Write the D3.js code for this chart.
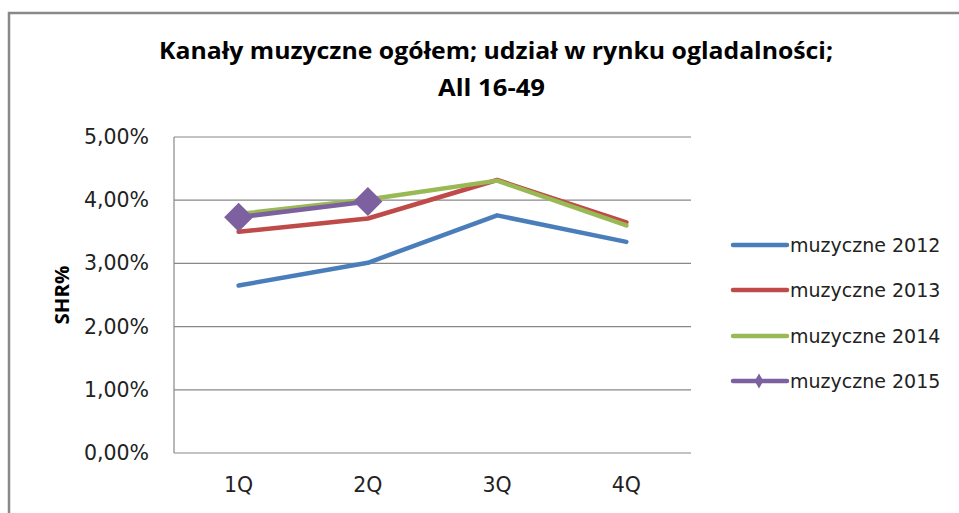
<!DOCTYPE html>
<html>
<head>
<meta charset="utf-8">
<script src="https://cdn.jsdelivr.net/npm/d3@7/dist/d3.min.js"></script>
<style>
  html, body { margin: 0; padding: 0; background: #fff; }
  svg { display: block; }
</style>
</head>
<body>
<svg id="chart" width="959" height="513"></svg>
<script>
const categories = ["1Q", "2Q", "3Q", "4Q"];
const seriesNames = ["muzyczne 2012", "muzyczne 2013", "muzyczne 2014", "muzyczne 2015"];
const values2012 = [2.65, 3.01, 3.76, 3.34];
const values2013 = [3.50, 3.71, 4.32, 3.65];
const values2014 = [3.78, 4.01, 4.31, 3.60];
const values2015 = [3.73, 3.98];
const yTicks = [0, 1, 2, 3, 4, 5];
const yTickLabels = ["0,00%", "1,00%", "2,00%", "3,00%", "4,00%", "5,00%"];
const titleLines = ["Kanały muzyczne ogółem; udział w rynku ogladalności;", "All 16-49"];
const yAxisTitle = "SHR%";

const colors = ["#4a7ebb", "#be4b48", "#98b954", "#7d60a0"];
const seriesValues = [values2012, values2013, values2014, values2015];

const svg = d3.select("#chart");
const plot = { left: 174, right: 691, top: 137, bottom: 453 };

// outer frame
svg.append("path")
  .attr("d", "M9,513 L9,13 L959,13")
  .attr("fill", "none").attr("stroke", "#898989").attr("stroke-width", 2.5);

// title
const titleFont = "'Open Sans','Noto Sans',sans-serif";
svg.append("text")
  .attr("x", 496).attr("y", 58.5)
  .attr("text-anchor", "middle")
  .attr("font-family", titleFont).attr("font-weight", "bold").attr("font-size", 23)
  .attr("textLength", 674).attr("lengthAdjust", "spacingAndGlyphs")
  .attr("fill", "#000")
  .text(titleLines[0]);
svg.append("text")
  .attr("x", 491.5).attr("y", 96)
  .attr("text-anchor", "middle")
  .attr("font-family", titleFont).attr("font-weight", "bold").attr("font-size", 24)
  .attr("textLength", 107).attr("lengthAdjust", "spacingAndGlyphs")
  .attr("fill", "#000")
  .text(titleLines[1]);

const x = d3.scaleBand().domain(categories).range([plot.left, plot.right]);
const y = d3.scaleLinear().domain([0, 5]).range([plot.bottom, plot.top]);

const labelFont = "'DejaVu Sans',sans-serif";

// gridlines
svg.append("g").selectAll("line").data(yTicks).join("line")
  .attr("x1", plot.left).attr("x2", plot.right)
  .attr("y1", d => y(d)).attr("y2", d => y(d))
  .attr("stroke", "#888").attr("stroke-width", 1.2);

// y axis line
svg.append("line")
  .attr("x1", plot.left).attr("x2", plot.left)
  .attr("y1", plot.top).attr("y2", plot.bottom)
  .attr("stroke", "#888").attr("stroke-width", 1.2);

// y axis via d3
const yAxis = d3.axisLeft(y).tickValues(yTicks).tickSize(0).tickPadding(25)
  .tickFormat((d, i) => yTickLabels[i]);
const yg = svg.append("g").attr("transform", `translate(${plot.left},0)`).call(yAxis);
yg.select(".domain").remove();
yg.selectAll("text")
  .attr("font-family", labelFont).attr("font-size", 20.5).attr("fill", "#222");

// x axis via d3
const xAxis = d3.axisBottom(x).tickSize(0).tickPadding(24);
const xg = svg.append("g").attr("transform", `translate(0,${plot.bottom})`).call(xAxis);
xg.select(".domain").remove();
xg.selectAll("text")
  .attr("font-family", labelFont).attr("font-size", 20.5).attr("fill", "#222");

// y axis title
svg.append("text")
  .attr("transform", `translate(69,295) rotate(-90)`)
  .attr("text-anchor", "middle")
  .attr("font-family", "'Open Sans',sans-serif").attr("font-weight", "bold").attr("font-size", 20)
  .attr("textLength", 59).attr("lengthAdjust", "spacingAndGlyphs")
  .attr("fill", "#000")
  .text(yAxisTitle);

// lines
const line = d3.line()
  .x((d, i) => x(categories[i]) + x.bandwidth() / 2)
  .y(d => y(d));

seriesValues.forEach((vals, si) => {
  svg.append("path")
    .datum(vals)
    .attr("d", line)
    .attr("fill", "none")
    .attr("stroke", colors[si])
    .attr("stroke-width", 4.5)
    .attr("stroke-linejoin", "round")
    .attr("stroke-linecap", "round");
});

// diamond markers for 2015
svg.append("g").selectAll("path").data(values2015).join("path")
  .attr("transform", (d, i) => `translate(${x(categories[i]) + x.bandwidth() / 2},${y(d)}) rotate(45)`)
  .attr("d", d3.symbol().type(d3.symbolSquare).size(420))
  .attr("fill", colors[3]);

// legend
const legend = svg.append("g");
const legendY = [245, 290, 336, 381];
seriesNames.forEach((name, i) => {
  const g = legend.append("g").attr("transform", `translate(0,${legendY[i]})`);
  g.append("line")
    .attr("x1", 733).attr("x2", 787).attr("y1", 0).attr("y2", 0)
    .attr("stroke", colors[i]).attr("stroke-width", 4.5).attr("stroke-linecap", "round");
  if (i === 3) {
    g.append("path")
      .attr("transform", "translate(759,0)")
      .attr("d", d3.symbol().type(d3.symbolDiamond).size(65))
      .attr("fill", colors[i]);
  }
  g.append("text")
    .attr("x", 790).attr("y", 0).attr("dy", "0.36em")
    .attr("font-family", labelFont).attr("font-size", 19).attr("fill", "#222")
    .text(name);
});
</script>
</body>
</html>
